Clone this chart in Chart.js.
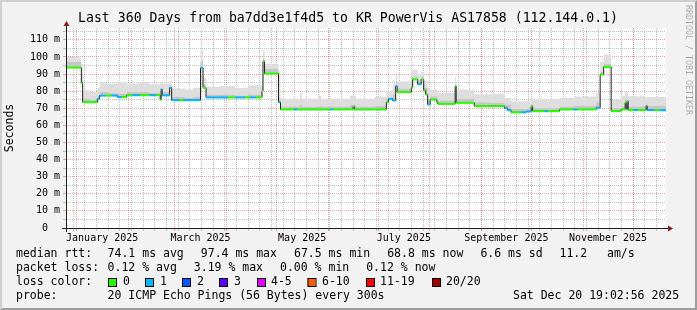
<!DOCTYPE html>
<html>
<head>
<meta charset="utf-8">
<script src="https://cdn.jsdelivr.net/npm/chart.js@4.4.1/dist/chart.umd.min.js"></script>
<style>
  html, body { margin: 0; padding: 0; background: #f2f2f2; }
  canvas { display: block; }
</style>
</head>
<body>
<canvas id="graph" width="697" height="310" style="width:697px;height:310px"></canvas>
<script>
// graph window: 360 days ending Sat Dec 20 19:02:56 2025
const start = Date.UTC(2024, 11, 25, 19, 3);
const dayMs = 86400000;
const spanDays = 360;
const yMax = 116.9;

const monthLabels = ['January 2025', 'March 2025', 'May 2025', 'July 2025', 'September 2025', 'November 2025'];

// median rtt (ms), as steps: day offset where a level starts, value, lost pings
const medDay = [0, 9.2, 10.0, 18.8, 20.2, 23.8, 27.4, 31.0, 33.4, 36.4, 40.0, 44.2, 50.2, 53.8, 56.5, 57.1, 57.7,
  62.2, 63.4, 68.2, 70.6, 80.7, 82.2, 84.0, 97.2, 101.4, 107.4, 110.4, 114.0, 117.6, 118.2, 119.1, 127.5, 128.7,
  136.8, 138.6, 158.4, 160.2, 172.2, 173.0, 192.2, 193.6, 196.0, 197.8, 198.7, 207.2, 208.0, 211.0, 213.1, 214.6,
  215.8, 217.0, 218.5, 222.4, 223.0, 233.5, 234.1, 244.9, 263.2, 265.0, 267.1, 273.4, 276.1, 279.1, 280.0, 287.2,
  289.0, 296.2, 304.6, 307.0, 318.1, 320.5, 322.6, 327.1, 333.1, 335.5, 336.1, 336.7, 337.3, 340.6, 343.0, 348.1,
  348.7, 353.2, 356.2];
const medVal = [93.8, 84.9, 73.5, 75.5, 77.4, 77.4, 77.4, 76.5, 76.5, 77.6, 77.6, 77.6, 77.6, 77.6, 75.0, 81.0, 77.5,
  82.0, 74.7, 74.7, 74.7, 93.6, 82.0, 76.3, 76.3, 76.3, 76.3, 76.3, 76.3, 80.0, 97.4, 90.3, 73.5, 69.3,
  69.3, 69.3, 69.3, 69.3, 71.0, 69.3, 73.5, 75.5, 74.5, 82.9, 79.4, 82.0, 86.8, 84.0, 86.8, 80.5,
  78.0, 72.2, 75.1, 73.8, 72.6, 82.9, 73.2, 71.2, 70.0, 68.8, 67.6, 67.6, 68.1, 71.2, 68.3, 68.3,
  68.3, 69.3, 69.3, 69.3, 70.3, 89.7, 94.2, 68.3, 69.3, 73.2, 69.3, 74.1, 68.9, 68.9, 68.9, 71.5,
  68.9, 68.9, 68.8];
const medLoss = [0, 0, 0, 1, 1, 0, 1, 1, 0, 0, 1, 0, 1, 0, 0, 1, 1,
  1, 1, 0, 1, 1, 0, 1, 0, 1, 0, 1, 0, 0, 0, 0, 1, 0,
  1, 0, 1, 0, 0, 0, 0, 1, 1, 1, 0, 0, 0, 1, 0, 0,
  0, 1, 0, 0, 0, 0, 0, 0, 1, 1, 0, 1, 1, 0, 0, 1,
  0, 0, 1, 0, 1, 0, 0, 0, 0, 0, 0, 0, 0, 1, 0, 0,
  1, 0, 1];

// smoke (spread of the 20 pings): day offset, upper edge, edge of the denser part
const smokeDay = [0, 9.2, 10.0, 14.2, 18.8, 20.2, 25.0, 31.0, 36.4, 44.2, 50.2, 56.5, 57.7, 62.2, 63.4, 71.2, 76.0,
  80.7, 82.2, 84.0, 92.4, 101.4, 109.2, 117.6, 118.2, 119.1, 127.5, 128.7, 140.4, 141.6, 151.2, 153.0, 170.4,
  174.0, 185.4, 192.2, 196.0, 197.8, 198.7, 207.2, 211.0, 213.1, 214.6, 217.0, 218.5, 223.0, 233.5, 234.1,
  244.9, 254.2, 263.2, 267.1, 279.1, 280.0, 296.2, 305.2, 318.1, 320.5, 322.6, 327.1, 333.1, 335.2, 337.3, 347.2];
const smokeTop = [100, 96, 80.5, 79.5, 82, 85.5, 84.5, 85, 84.5, 85.5, 84, 85, 84.5, 86, 81.5, 81, 82,
  104, 88, 82.5, 83, 82, 83.5, 90, 103.7, 96, 92, 75.5, 79, 75.5, 77.5, 75.5, 77.5,
  75.5, 76.5, 80, 84, 88.7, 85.8, 92.6, 90, 91, 86, 82, 81, 79, 88.7, 81,
  78.2, 78.5, 76, 74.1, 77, 75.1, 76.1, 76.8, 79, 97, 101.4, 75, 77, 79.9, 77, 76.5];
const smokeMid = [97, 90, 75.5, 75, 77, 79.5, 79, 78.5, 79.5, 79.5, 79, 82, 79.5, 83.5, 76.5, 76, 76.5,
  97, 84, 78, 78, 77.5, 78, 82, 99, 93, 76, 71, 72, 71, 71.5, 71, 72,
  71, 71.5, 76, 78, 85, 81.5, 88.5, 86, 88.5, 82, 75, 77, 74.5, 84, 75.5,
  73.5, 73, 72, 69.5, 72.5, 70, 71, 71.5, 73.5, 91.5, 96, 70, 71, 75, 71, 71.5];

const lossColors = ['#26ff00', '#00b8ff', '#0059ff', '#5e00ff', '#dd00ff', '#ff5e00', '#ff0000', '#a10000'];
const lossNames = ['0', '1', '2', '3', '4-5', '6-10', '11-19', '20/20'];

function dayOf(y, m, d) {
  return (Date.UTC(y, m, d) - start) / dayMs;
}

function steps(days, vals) {
  const pts = days.map((d, i) => ({x: d, y: vals[i]}));
  pts.push({x: spanDays, y: vals[vals.length - 1]});
  return pts;
}

// coloured median band: one horizontal piece per level
const band = [];
medDay.forEach((d, i) => {
  const end = i + 1 < medDay.length ? medDay[i + 1] : spanDays;
  band.push({x: d, y: medVal[i]}, {x: end, y: medVal[i]});
});

const gridMinor = 'rgba(143,143,143,0.55)';
const gridMajor = 'rgba(222,79,79,0.5)';
const none = 'rgba(0,0,0,0)';

function xTicks() {
  const t = [];
  for (let d = dayOf(2024, 11, 30); d < spanDays; d += 7) t.push({value: d, kind: 'week'});
  for (let m = 0; m < 12; m++) t.push({value: dayOf(2025, m, 1), kind: 'month'});
  monthLabels.forEach((lab, i) => {
    const m = i * 2;
    t.push({value: (dayOf(2025, m, 1) + dayOf(2025, m + 1, 1)) / 2, kind: 'label', text: lab});
  });
  t.sort((a, b) => a.value - b.value);
  return t;
}

const mono = '"DejaVu Sans Mono", monospace';

const frame = {
  id: 'frame',
  beforeDraw(chart) {
    const {ctx, width: w, height: h, chartArea: a} = chart;
    ctx.save();
    ctx.fillStyle = '#f2f2f2';
    ctx.fillRect(0, 0, w, h);
    ctx.fillStyle = '#cfcfcf';
    ctx.beginPath();
    ctx.moveTo(0, 0); ctx.lineTo(w, 0); ctx.lineTo(w - 2, 2); ctx.lineTo(2, 2); ctx.lineTo(2, h - 2); ctx.lineTo(0, h);
    ctx.closePath(); ctx.fill();
    ctx.fillStyle = '#9e9e9e';
    ctx.beginPath();
    ctx.moveTo(0, h); ctx.lineTo(w, h); ctx.lineTo(w, 0); ctx.lineTo(w - 2, 2); ctx.lineTo(w - 2, h - 2); ctx.lineTo(2, h - 2);
    ctx.closePath(); ctx.fill();
    ctx.fillStyle = '#ffffff';
    ctx.fillRect(a.left, a.top, a.right - a.left, a.bottom - a.top);
    ctx.restore();
  },
  afterDraw(chart) {
    const {ctx, chartArea: a} = chart;
    const x0 = a.left + 0.5, y0 = a.bottom + 0.5;
    ctx.save();
    // axes and arrows
    ctx.strokeStyle = '#1f1f1f';
    ctx.lineWidth = 1;
    ctx.beginPath();
    ctx.moveTo(a.left - 4, y0); ctx.lineTo(a.right + 4, y0);
    ctx.moveTo(x0, a.bottom + 4); ctx.lineTo(x0, a.top - 4);
    ctx.stroke();
    ctx.fillStyle = '#801f1f';
    ctx.beginPath();
    ctx.moveTo(a.right + 2, y0 - 3); ctx.lineTo(a.right + 7, y0); ctx.lineTo(a.right + 2, y0 + 3);
    ctx.closePath(); ctx.fill();
    ctx.beginPath();
    ctx.moveTo(x0 - 3, a.top - 2); ctx.lineTo(x0, a.top - 7); ctx.lineTo(x0 + 3, a.top - 2);
    ctx.closePath(); ctx.fill();

    // title
    ctx.fillStyle = '#000';
    ctx.textBaseline = 'middle';
    ctx.textAlign = 'center';
    ctx.font = '13.2px ' + mono;
    ctx.fillText('Last 360 Days from ba7dd3e1f4d5 to KR PowerVis AS17858 (112.144.0.1)', 348, 19);

    // legend
    ctx.textAlign = 'left';
    ctx.font = '11.5px ' + mono;
    const rows = [
      [254.3, [[16, 'median rtt:'], [107.6, '74.1 ms avg'], [200.8, '97.4 ms max'], [294, '67.5 ms min'],
        [387.2, '68.8 ms now'], [480.4, '6.6 ms sd'], [559.5, '11.2'], [607, 'am/s']]],
      [268.3, [[16, 'packet loss:'], [107.6, '0.12 % avg'], [193.8, '3.19 % max'], [280, '0.00 % min'], [366.2, '0.12 % now']]],
      [282.3, [[16, 'loss color:']]],
      [296.3, [[16, 'probe:'], [107.6, '20 ICMP Echo Pings (56 Bytes) every 300s'], [513, 'Sat Dec 20 19:02:56 2025']]]
    ];
    rows.forEach(([y, items]) => items.forEach(([x, s]) => ctx.fillText(s, x, y)));
    const boxX = [108, 145, 182, 219, 257, 307.5, 366, 432];
    const nameX = [123, 160, 197, 234, 271, 322, 380, 446];
    lossColors.forEach((c, i) => {
      ctx.fillStyle = c;
      ctx.fillRect(boxX[i], 278, 8, 8);
      ctx.strokeStyle = '#000';
      ctx.strokeRect(boxX[i] + 0.5, 278.5, 8, 8);
      ctx.fillStyle = '#000';
      ctx.fillText(lossNames[i], nameX[i], 282.3);
    });

    // watermark
    ctx.translate(688.5, 5);
    ctx.rotate(Math.PI / 2);
    ctx.font = '8.3px ' + mono;
    ctx.fillStyle = 'rgba(0,0,0,0.3)';
    ctx.fillText('RRDTOOL / TOBI OETIKER', 0, 0);
    ctx.restore();
  }
};

Chart.defaults.color = '#000';
Chart.defaults.font.family = mono;

new Chart(document.getElementById('graph'), {
  type: 'line',
  data: {
    datasets: [
      {
        data: band,
        borderWidth: 2,
        borderCapStyle: 'butt',
        pointRadius: 0,
        segment: {
          borderColor: ctx => ctx.p0DataIndex % 2 === 0 ? lossColors[medLoss[ctx.p0DataIndex / 2]] : none
        }
      },
      {
        data: steps(medDay, medVal),
        stepped: true,
        borderColor: '#202020',
        borderWidth: 1,
        pointRadius: 0
      },
      {
        data: steps(smokeDay, smokeMid),
        stepped: true,
        borderColor: none,
        borderWidth: 1,
        pointRadius: 0,
        fill: {target: 1, above: '#c6c6c6', below: '#c6c6c6'}
      },
      {
        data: steps(smokeDay, smokeTop),
        stepped: true,
        borderColor: none,
        borderWidth: 1,
        pointRadius: 0,
        fill: {target: 2, above: '#dedede', below: '#dedede'}
      }
    ]
  },
  options: {
    responsive: false,
    animation: false,
    devicePixelRatio: 1,
    layout: {padding: {left: 0, right: 31, top: 28, bottom: 0}},
    plugins: {legend: {display: false}, tooltip: {enabled: false}},
    scales: {
      x: {
        type: 'linear',
        min: 0,
        max: spanDays,
        z: 1,
        afterBuildTicks: scale => { scale.ticks = xTicks(); },
        afterFit: scale => {
          scale.height = 82;
          scale.paddingLeft = 0;
          scale.paddingRight = 0;
        },
        grid: {
          color: ctx => ctx.tick ? (ctx.tick.kind === 'month' ? gridMajor : ctx.tick.kind === 'week' ? gridMinor : none) : none,
          tickLength: 3
        },
        border: {display: false, dash: [1, 1]},
        ticks: {
          autoSkip: false,
          maxRotation: 0,
          padding: 1,
          font: {size: 10, family: mono},
          callback: (v, i, ticks) => ticks[i].text || ''
        }
      },
      y: {
        min: 0,
        max: yMax,
        z: 1,
        afterFit: scale => {
          scale.width = 66;
          scale.paddingTop = 0;
          scale.paddingBottom = 0;
        },
        grid: {
          color: ctx => ctx.tick && ctx.tick.value % 10 === 0 ? gridMajor : gridMinor,
          tickLength: 3
        },
        border: {display: false, dash: [1, 1]},
        title: {
          display: true,
          text: 'Seconds',
          font: {size: 11.5, family: mono},
          padding: {top: 3, bottom: 0}
        },
        ticks: {
          stepSize: 5,
          includeBounds: false,
          autoSkip: false,
          padding: 3,
          font: {size: 10, family: mono},
          callback: v => v % 10 !== 0 ? '' : (v === 0 ? '0  ' : v + ' m')
        }
      }
    }
  },
  plugins: [frame]
});
</script>
</body>
</html>
